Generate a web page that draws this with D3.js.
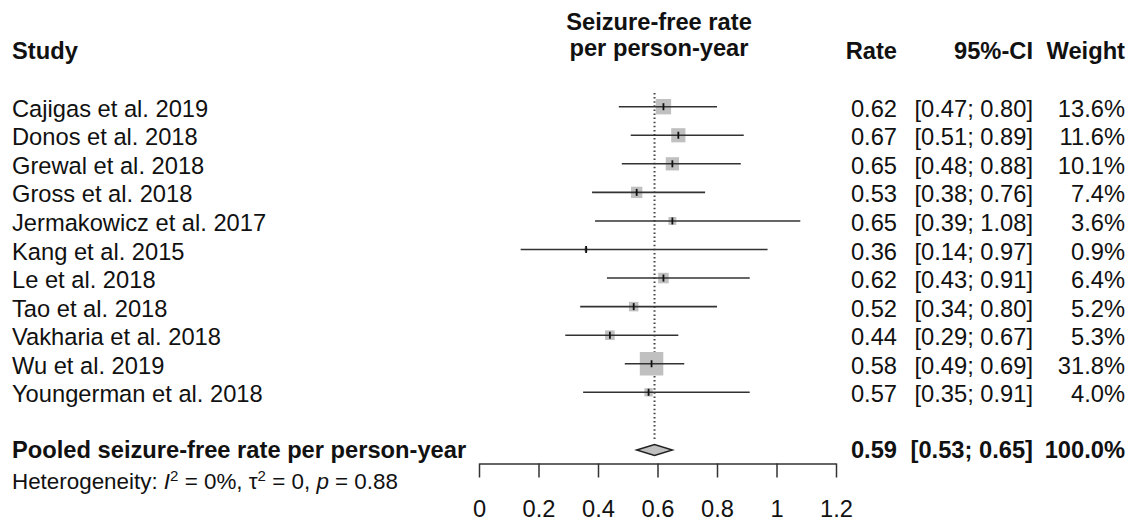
<!DOCTYPE html>
<html>
<head>
<meta charset="utf-8">
<script src="https://cdn.jsdelivr.net/npm/d3@7"></script>
<style>
  body { margin: 0; background: #fff; }
  svg { display: block; font-family: "Liberation Sans", Arial, sans-serif; }
</style>
</head>
<body>
<div id="forest"></div>
<script>
const studies = ["Cajigas et al. 2019", "Donos et al. 2018", "Grewal et al. 2018", "Gross et al. 2018",
  "Jermakowicz et al. 2017", "Kang et al. 2015", "Le et al. 2018", "Tao et al. 2018",
  "Vakharia et al. 2018", "Wu et al. 2019", "Youngerman et al. 2018"];
const rates = [0.62, 0.67, 0.65, 0.53, 0.65, 0.36, 0.62, 0.52, 0.44, 0.58, 0.57];
const lower = [0.47, 0.51, 0.48, 0.38, 0.39, 0.14, 0.43, 0.34, 0.29, 0.49, 0.35];
const upper = [0.80, 0.89, 0.88, 0.76, 1.08, 0.97, 0.91, 0.80, 0.67, 0.69, 0.91];
const weights = [13.6, 11.6, 10.1, 7.4, 3.6, 0.9, 6.4, 5.2, 5.3, 31.8, 4.0];
const pooled = { rate: 0.59, lower: 0.53, upper: 0.65, weight: 100.0 };
const tickVals = [0, 0.2, 0.4, 0.6, 0.8, 1, 1.2];

const width = 1132, height = 521;
const fs = 23.7;

const svg = d3.select("#forest").append("svg")
  .attr("width", width)
  .attr("height", height);

svg.append("rect").attr("width", width).attr("height", height).attr("fill", "#fff");

const x = d3.scaleLinear().domain([0, 1.2]).range([479, 836]);
const y = d3.scalePoint().domain(studies).range([106.7, 392.3]);
const size = d3.scaleSqrt().domain([0, 31.8]).range([0, 23.5]);
const yPooled = 450;

const f2 = d3.format(".2f");
const rows = studies.map((s, i) => ({ study: s, rate: rates[i], lo: lower[i], hi: upper[i], w: weights[i] }));

// headers
const head = svg.append("g").attr("font-weight", "bold").attr("font-size", fs).attr("fill", "#111");
head.append("text").attr("x", 12).attr("y", 59).text("Study");
head.append("text").attr("x", 659).attr("y", 30).attr("text-anchor", "middle").text("Seizure-free rate");
head.append("text").attr("x", 659).attr("y", 56).attr("text-anchor", "middle").text("per person-year");
head.append("text").attr("x", 897).attr("y", 59).attr("text-anchor", "end").text("Rate");
head.append("text").attr("x", 1033).attr("y", 59).attr("text-anchor", "end").text("95%-CI");
head.append("text").attr("x", 1125).attr("y", 59).attr("text-anchor", "end").text("Weight");

// reference line at pooled estimate
svg.append("line")
  .attr("x1", x(pooled.rate)).attr("x2", x(pooled.rate))
  .attr("y1", 93).attr("y2", 439)
  .attr("stroke", "#444").attr("stroke-width", 2)
  .attr("stroke-dasharray", "1.5,2.6");

// study rows
const g = svg.append("g");
g.selectAll("rect.sq").data(rows).join("rect")
  .attr("class", "sq")
  .attr("x", d => x(d.rate) - size(d.w) / 2)
  .attr("y", d => y(d.study) - size(d.w) / 2)
  .attr("width", d => size(d.w))
  .attr("height", d => size(d.w))
  .attr("fill", "#c0c0c0");

g.selectAll("line.ci").data(rows).join("line")
  .attr("class", "ci")
  .attr("x1", d => x(d.lo)).attr("x2", d => x(d.hi))
  .attr("y1", d => y(d.study)).attr("y2", d => y(d.study))
  .attr("stroke", "#333").attr("stroke-width", 1.6);

g.selectAll("line.est").data(rows).join("line")
  .attr("class", "est")
  .attr("x1", d => x(d.rate)).attr("x2", d => x(d.rate))
  .attr("y1", d => y(d.study) - 3.5).attr("y2", d => y(d.study) + 3.5)
  .attr("stroke", "#111").attr("stroke-width", 1.8);

const txt = svg.append("g").attr("font-size", fs).attr("fill", "#111");
txt.selectAll("text.study").data(rows).join("text")
  .attr("class", "study")
  .attr("x", 12).attr("y", d => y(d.study) + 10)
  .text(d => d.study);
txt.selectAll("text.rate").data(rows).join("text")
  .attr("class", "rate")
  .attr("x", 897).attr("y", d => y(d.study) + 10).attr("text-anchor", "end")
  .text(d => f2(d.rate));
txt.selectAll("text.ci").data(rows).join("text")
  .attr("class", "ci")
  .attr("x", 1033).attr("y", d => y(d.study) + 10).attr("text-anchor", "end")
  .text(d => `[${f2(d.lo)}; ${f2(d.hi)}]`);
txt.selectAll("text.wt").data(rows).join("text")
  .attr("class", "wt")
  .attr("x", 1125).attr("y", d => y(d.study) + 10).attr("text-anchor", "end")
  .text(d => d.w.toFixed(1) + "%");

// pooled diamond
const dh = 5.5;
svg.append("path")
  .attr("d", `M${x(pooled.lower)},${yPooled}L${x(pooled.rate)},${yPooled - dh}L${x(pooled.upper)},${yPooled}L${x(pooled.rate)},${yPooled + dh}Z`)
  .attr("fill", "#c0c0c0").attr("stroke", "#222").attr("stroke-width", 1.5);

const pg = svg.append("g").attr("font-size", fs).attr("font-weight", "bold").attr("fill", "#111");
pg.append("text").attr("x", 12).attr("y", yPooled + 8).text("Pooled seizure-free rate per person-year");
pg.append("text").attr("x", 897).attr("y", yPooled + 8).attr("text-anchor", "end").text(f2(pooled.rate));
pg.append("text").attr("x", 1033).attr("y", yPooled + 8).attr("text-anchor", "end")
  .text(`[${f2(pooled.lower)}; ${f2(pooled.upper)}]`);
pg.append("text").attr("x", 1125).attr("y", yPooled + 8).attr("text-anchor", "end")
  .text(pooled.weight.toFixed(1) + "%");

// heterogeneity
const het = svg.append("text").attr("x", 12).attr("y", 489).attr("font-size", 22.4).attr("fill", "#111");
het.append("tspan").text("Heterogeneity: ");
het.append("tspan").attr("font-style", "italic").text("I");
het.append("tspan").attr("font-size", 15).attr("dy", -8).text("2");
het.append("tspan").attr("dy", 8).text(" = 0%, \u03c4");
het.append("tspan").attr("font-size", 15).attr("dy", -8).text("2");
het.append("tspan").attr("dy", 8).text(" = 0, ");
het.append("tspan").attr("font-style", "italic").text("p");
het.append("tspan").text(" = 0.88");

// axis
const axis = svg.append("g")
  .attr("transform", "translate(0,463.5)")
  .call(d3.axisBottom(x).tickValues(tickVals).tickFormat(d => d).tickSize(14).tickSizeOuter(0).tickPadding(23));
axis.select(".domain").attr("stroke", "#333").attr("stroke-width", 1.5);
axis.selectAll(".tick line").attr("stroke", "#333").attr("stroke-width", 1.5);
axis.selectAll(".tick text").attr("font-size", fs).attr("fill", "#111")
  .attr("font-family", "Liberation Sans, Arial, sans-serif");
</script>
</body>
</html>
